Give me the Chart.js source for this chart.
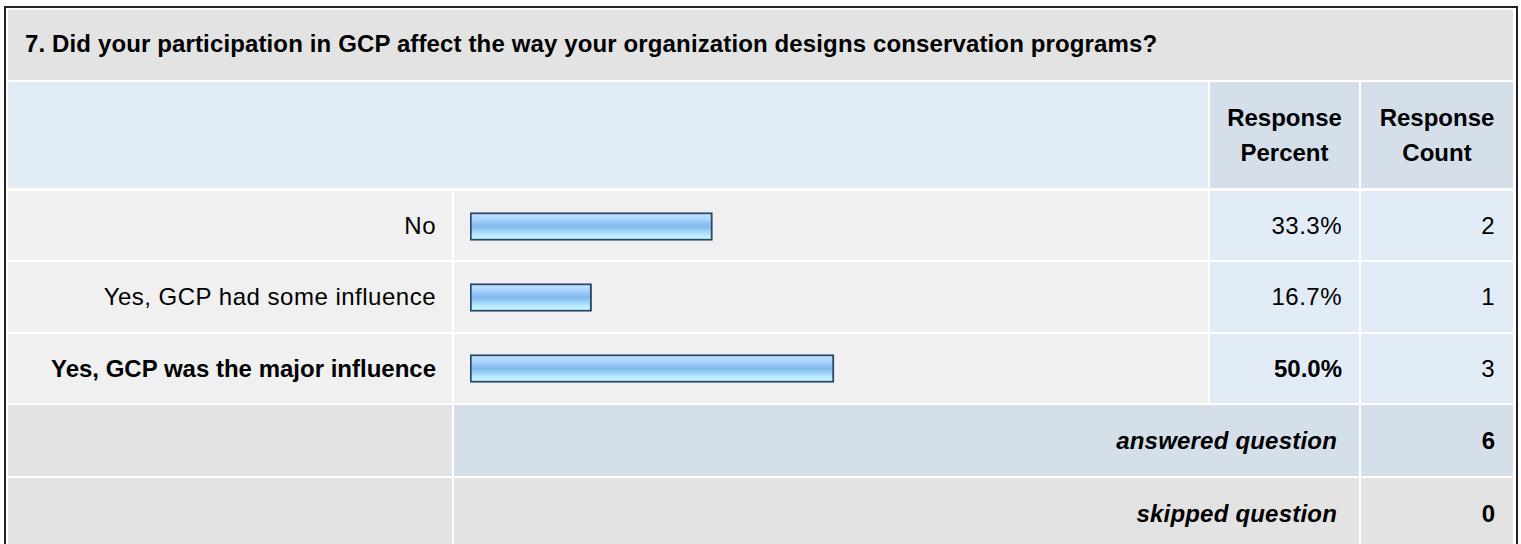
<!DOCTYPE html>
<html>
<head>
<meta charset="utf-8">
<script src="https://cdn.jsdelivr.net/npm/chart.js@4/dist/chart.umd.min.js"></script>
<style>
  html, body { margin: 0; padding: 0; background: #fff; }
  body { width: 1521px; height: 544px; position: relative; overflow: hidden;
         font-family: "Liberation Sans", Arial, Helvetica, sans-serif; font-size: 24px; color: #000; }
  .frame { position: absolute; left: 4px; top: 6px; width: 1514px; height: 560px;
           border: 2px solid #222; border-bottom: none; box-sizing: border-box; }
  .cell { position: absolute; box-sizing: border-box; display: flex; align-items: center; white-space: nowrap; }
  .reg { letter-spacing: 0.5px; }
  .r { justify-content: flex-end; }
  .c { justify-content: center; text-align: center; }
  .b { font-weight: bold; letter-spacing: 0; }
  .bi { font-weight: bold; font-style: italic; letter-spacing: 0.2px; }
  .ttl { font-weight: bold; letter-spacing: 0.13px; }
  #bars { position: absolute; left: 454px; top: 191px; width: 754px; height: 213px; }
</style>
</head>
<body>
<div class="frame"></div>
<div id="table"></div>
<div id="bars"><canvas id="chart"></canvas></div>
<script>
  const title = "7. Did your participation in GCP affect the way your organization designs conservation programs?";
  const categories = ["No", "Yes, GCP had some influence", "Yes, GCP was the major influence"];
  const percents = [33.3, 16.7, 50.0];
  const counts = [2, 1, 3];
  const answered = 6;
  const skipped = 0;

  const GRAY = "#e3e3e3", ROW = "#f0f0f0", BLUE = "#e2ecf6", BLUE2 = "#d5dfe9";
  const X = [8, 454, 1210, 1361, 1513];
  const rowsY = [[191, 260], [262, 332], [334, 403]];
  const topPct = Math.max(...percents);

  const $t = document.getElementById("table");
  function cell(x0, y0, x1, y1, bg, html, cls, pad) {
    const d = document.createElement("div");
    d.className = "cell " + (cls || "");
    d.style.cssText = `left:${x0}px;top:${y0}px;width:${x1 - x0}px;height:${y1 - y0}px;background:${bg};` + (pad || "");
    d.innerHTML = html || "";
    $t.appendChild(d);
  }

  cell(X[0], 10, X[4], 80, GRAY, title, "ttl", "padding-left:17px;padding-bottom:2px;");
  cell(X[0], 82, X[2] - 2, 188, BLUE, "");
  cell(X[2], 82, X[3] - 2, 188, BLUE2, "Response<br>Percent", "b c", "line-height:35px;");
  cell(X[3], 82, X[4], 188, BLUE2, "Response<br>Count", "b c", "line-height:35px;");

  categories.forEach((c, i) => {
    const [y0, y1] = rowsY[i];
    const bold = percents[i] === topPct ? "b" : "reg";
    cell(X[0], y0, X[1] - 2, y1, ROW, c, "r " + bold, "padding-right:16px;");
    cell(X[1], y0, X[2] - 2, y1, ROW, "");
    cell(X[2], y0, X[3] - 2, y1, BLUE, percents[i].toFixed(1) + "%", "r " + bold, "padding-right:17px;");
    cell(X[3], y0, X[4], y1, BLUE, String(counts[i]), "r reg", "padding-right:18px;");
  });

  cell(X[0], 405, X[1] - 2, 476, GRAY, "");
  cell(X[1], 405, X[3] - 2, 476, BLUE2, "answered question", "r bi", "padding-right:22px;");
  cell(X[3], 405, X[4], 476, BLUE2, String(answered), "r b", "padding-right:18px;");
  cell(X[0], 478, X[1] - 2, 560, GRAY, "");
  cell(X[1], 478, X[3] - 2, 560, GRAY, "");
  cell(X[3], 478, X[4], 560, GRAY, "");
  cell(X[1], 478, X[3] - 2, 550, "transparent", "skipped question", "r bi", "padding-right:22px;");
  cell(X[3], 478, X[4], 550, "transparent", String(skipped), "r b", "padding-right:18px;");

  // glossy blue fill, one gradient per bar
  function barFill(ctx) {
    const chart = ctx.chart;
    const ys = chart.scales.y;
    const yc = ys ? ys.getPixelForValue(ctx.dataIndex) : NaN;
    if (!Number.isFinite(yc)) return "#9cc8f5";
    const g = chart.ctx.createLinearGradient(0, yc - 14, 0, yc + 14);
    g.addColorStop(0, "#c4e4ff");
    g.addColorStop(0.2, "#b0d8ff");
    g.addColorStop(0.5, "#82b8f0");
    g.addColorStop(0.8, "#b8eaff");
    g.addColorStop(1, "#ccffff");
    return g;
  }

  new Chart(document.getElementById("chart"), {
    type: "bar",
    data: {
      labels: categories,
      datasets: [{
        data: percents,
        backgroundColor: barFill,
        borderColor: "#27466c",
        borderWidth: 2,
        borderSkipped: false,
        barThickness: 28
      }]
    },
    options: {
      indexAxis: "y",
      responsive: true,
      maintainAspectRatio: false,
      animation: false,
      layout: { padding: { left: 16, right: 10, top: 0, bottom: 0 } },
      plugins: { legend: { display: false }, tooltip: { enabled: false } },
      scales: {
        x: { min: 0, max: 100, display: false },
        y: { display: false, offset: true }
      }
    }
  });
</script>
</body>
</html>
